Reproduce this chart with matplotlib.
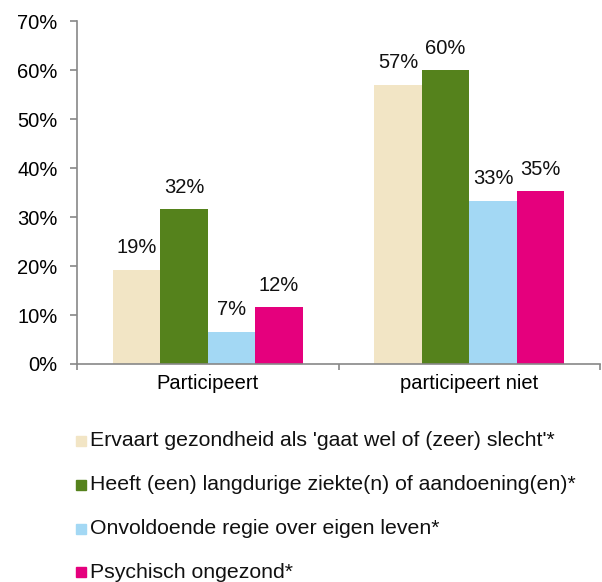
import matplotlib
matplotlib.use("Agg")
import matplotlib.pyplot as plt
from matplotlib.patches import Rectangle
import numpy as np

plt.rcParams['font.family'] = ['Liberation Sans', 'DejaVu Sans']

# data
groups = ['Participeert', 'participeert niet']
series = ["Ervaart gezondheid als 'gaat wel of (zeer) slecht'*",
          "Heeft (een) langdurige ziekte(n) of aandoening(en)*",
          "Onvoldoende regie over eigen leven*",
          "Psychisch ongezond*"]
values = [[19.2, 57.1],
          [31.6, 60.0],
          [6.5, 33.3],
          [11.6, 35.3]]
labels = [['19%', '57%'], ['32%', '60%'], ['7%', '33%'], ['12%', '35%']]
colors = ['#F2E5C5', '#55821C', '#A3D8F4', '#E5007D']

fig = plt.figure(figsize=(6.02, 5.82), dpi=100)
ax = fig.add_axes([0.128, 0.3746, 0.8687, 0.5885])

x = np.arange(len(groups))
w = 0.1815
for i, (vals, col) in enumerate(zip(values, colors)):
    pos = x + (i - 1.5) * w
    ax.bar(pos, vals, width=w, color=col, zorder=2)
    for p, v, t in zip(pos, vals, labels[i]):
        ax.annotate(t, (p, v), xytext=(0, 16), textcoords='offset points',
                    ha='center', va='center', fontsize=14.5, color='#111111')

ax.set_xlim(-0.5, 1.5)
ax.set_ylim(0, 70)
ax.set_yticks(range(0, 71, 10))
ax.set_yticklabels([f'{t}%' for t in range(0, 71, 10)], fontsize=14.5)
ax.set_xticks([-0.5, 0.5, 1.5])
ax.set_xticklabels([])
ax.set_xticks(x, minor=True)
ax.set_xticklabels(groups, minor=True, fontsize=14.5)
ax.tick_params(axis='x', which='minor', length=0, pad=7)
ax.tick_params(axis='x', which='major', length=4, color='#888888', width=1.2)
ax.tick_params(axis='y', length=5, color='#888888', width=1.2, pad=9)

for s in ['top', 'right']:
    ax.spines[s].set_visible(False)
for s in ['left', 'bottom']:
    ax.spines[s].set_color('#888888')
    ax.spines[s].set_linewidth(1.2)

# legend drawn by hand
for i, (lab, col) in enumerate(zip(series, colors)):
    yc = 1 - (441 + i * 43.8) / 582
    fig.patches.append(Rectangle((76 / 602, yc - 5 / 582), 10 / 602, 10 / 582,
                                 transform=fig.transFigure, color=col))
    fig.text(89.5 / 602, yc, lab, fontsize=15.3, va='center', color='#111111')

fig.savefig('out.png', dpi=100)
